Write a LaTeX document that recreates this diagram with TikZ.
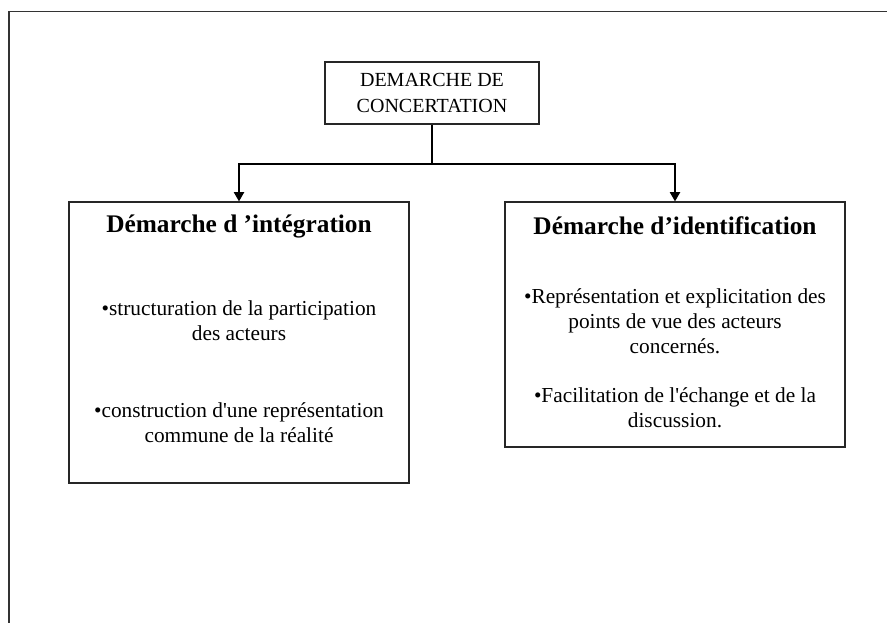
\documentclass[tikz,border=0pt]{standalone}
\usepackage{fontspec}
\setmainfont{Liberation Serif}
\usetikzlibrary{arrows.meta}

\begin{document}
\begin{tikzpicture}[x=0.75pt,y=-0.75pt,
	box/.style={draw=black!85, line width=0.8pt, inner sep=0pt},
	titre/.style={font=\fontsize{19}{22}\selectfont\bfseries},
	corps/.style={align=center, font=\fontsize{16}{18.75}\selectfont},
	conn/.style={line width=1.6pt},
	fleche/.style={conn, -{Triangle[length=7pt,width=7.5pt]}}]
	\useasboundingbox (0,0) rectangle (887,623);
	%% frame
	\draw[black!80, line width=1pt] (887,11.5) -- (9,11.5) -- (9,623);
	%% boxes
	\node[box, minimum width=160.5pt, minimum height=46.5pt, corps, font=\fontsize{15}{20}\selectfont] (concert) at (432,93) {DEMARCHE DE\\CONCERTATION};
	\node[box, minimum width=255pt, minimum height=210.75pt] (integ) at (239,342.5) {};
	\node[box, minimum width=255pt, minimum height=183.75pt] (ident) at (675,324.5) {};
	%% links
	\coordinate (split) at (432,164);
	\draw[conn] (concert.south) -- (split);
	\draw[fleche] (split) -| (integ.north);
	\draw[fleche] (split) -| (ident.north);
	%% texts
	\node[titre] (titreinteg) at (239,226) {Démarche d ’intégration};
	\node[titre] (titreident) at (675,226) {Démarche d’identification};
	\node[corps] (struct) at (239,321) {•structuration de la participation\\des acteurs};
	\node[corps] (constr) at (239,423) {•construction d\textquotesingle une représentation\\commune de la réalité};
	\node[corps] (repres) at (675,321) {•Représentation et explicitation des\\points de vue des acteurs\\concernés.};
	\node[corps] (facil) at (675,407.5) {•Facilitation de l\textquotesingle échange et de la\\discussion.};
\end{tikzpicture}
\end{document}
